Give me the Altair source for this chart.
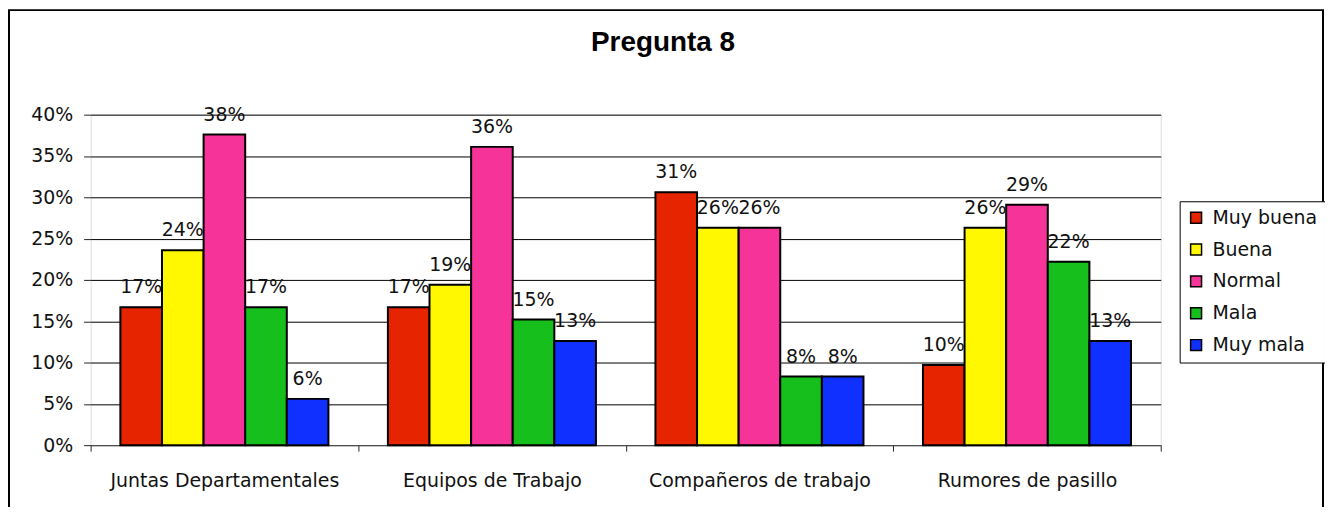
import altair as alt
import pandas as pd

categories = ["Juntas Departamentales", "Equipos de Trabajo",
              "Compañeros de trabajo", "Rumores de pasillo"]
series = ["Muy buena", "Buena", "Normal", "Mala", "Muy mala"]
colors = ["#E62400", "#FFF800", "#F63399", "#16BF1B", "#1030FF"]

muy_buena = [0.167, 0.167, 0.306, 0.097]
buena = [0.236, 0.194, 0.263, 0.263]
normal = [0.376, 0.361, 0.263, 0.291]
mala = [0.167, 0.152, 0.083, 0.222]
muy_mala = [0.056, 0.126, 0.083, 0.126]

y_ticks = [0, 0.05, 0.10, 0.15, 0.20, 0.25, 0.30, 0.35, 0.40]
title_text = "Pregunta 8"

values = [muy_buena, buena, normal, mala, muy_mala]
rows = []
for s, vals in zip(series, values):
    for c, v in zip(categories, vals):
        rows.append({"categoria": c, "serie": s, "valor": v})
df = pd.DataFrame(rows)

W, H = 1075, 332
FONT = "DejaVu Sans"
FS = 19

x_enc = alt.X("categoria:N", sort=categories, title=None,
              scale=alt.Scale(paddingInner=0, paddingOuter=0),
              axis=alt.Axis(labelAngle=0, labelFont=FONT, labelFontSize=FS,
                            labelColor="#111", tickBand="extent", tickSize=6,
                            tickColor="#222", labelPadding=21, domainColor="#555",
                            labelLimit=0, grid=False))
xoff_enc = alt.XOffset("serie:N", sort=series,
                       scale=alt.Scale(paddingInner=0, paddingOuter=0.715))
y_enc = alt.Y("valor:Q", title=None,
              scale=alt.Scale(domain=[0, 0.4], nice=False),
              axis=alt.Axis(values=y_ticks, format=".0%", labelFont=FONT,
                            labelFontSize=FS, labelColor="#111", tickSize=7,
                            tickColor="#222", labelPadding=11, domain=False,
                            grid=True, gridColor="#000", gridWidth=1))

base = alt.Chart(df)

labels = base.mark_text(font=FONT, fontSize=FS, color="#111",
                        baseline="alphabetic", dy=-14).encode(
    x=x_enc, xOffset=xoff_enc, y=y_enc,
    text=alt.Text("valor:Q", format=".0%"))

bars = base.mark_bar(stroke="black", strokeWidth=2).encode(
    x=x_enc, xOffset=xoff_enc, y=y_enc,
    color=alt.Color("serie:N", sort=series,
                    scale=alt.Scale(domain=series, range=colors),
                    legend=alt.Legend(orient="none", legendX=1094, legendY=87,
                                      title=None, symbolType="square",
                                      symbolSize=121, symbolStrokeColor="black",
                                      symbolStrokeWidth=1.5, labelFont=FONT,
                                      labelFontSize=FS, labelColor="#111",
                                      strokeColor="black", fillColor="white",
                                      padding=7, rowPadding=12, labelOffset=7,
                                      cornerRadius=0)))

frame = alt.Chart(alt.Data(values=[{"f": 1}])).mark_rect(
    fillOpacity=0, stroke="black", strokeWidth=2).encode(
    x=alt.value(-82), x2=alt.value(1238), y=alt.value(-105), y2=alt.value(420))

title = alt.Chart(alt.Data(values=[{"t": title_text}])).mark_text(
    font="Liberation Sans", fontSize=28, fontWeight="bold", color="#000",
    align="center", baseline="alphabetic").encode(
    x=alt.value(575), y=alt.value(-64), text="t:N")

chart = alt.layer(frame, title, labels, bars).properties(
    width=W, height=H,
    autosize=alt.AutoSizeParams(type="none"),
    padding={"left": 83, "top": 106, "right": 165, "bottom": 61},
).configure_view(fill="#cccccc", stroke="#8a8a8a", strokeWidth=1.5
).configure(background="white")

chart.save("out.html", embed_options={"renderer": "svg", "actions": False})
